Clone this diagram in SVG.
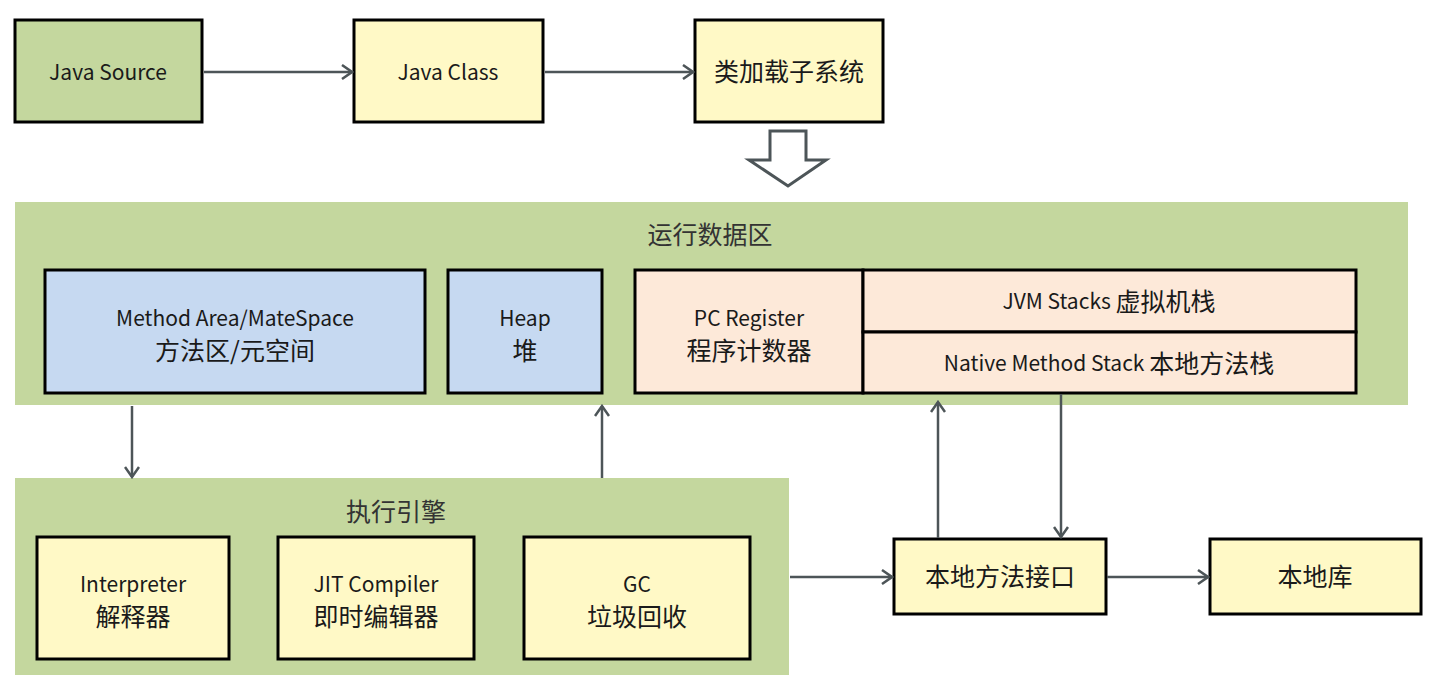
<svg xmlns="http://www.w3.org/2000/svg" width="1436" height="684" viewBox="0 0 1436 684">
<style>
  text { font-family: "Noto Sans CJK SC", "Liberation Sans", sans-serif; fill: #1a1a1a; text-anchor: middle; dominant-baseline: central; }
  .t { font-size: 21px; }
  .c { font-size: 25px; }
  .title { font-size: 25px; fill: #333; }
  .box { stroke: #000; stroke-width: 3; }
  .green { fill: #C4D79E; }
  .yellow { fill: #FFF9C6; }
  .blue { fill: #C6D9F1; }
  .peach { fill: #FDE9D9; }
  .conn { stroke: #4D5558; stroke-width: 2.5; fill: none; }
</style>
<defs>
  <marker id="arr" markerUnits="userSpaceOnUse" markerWidth="14" markerHeight="16" refX="12" refY="8" orient="auto">
    <path d="M2,1 L12,8 L2,15" fill="none" stroke="#4D5558" stroke-width="2.5"/>
  </marker>
</defs>
<rect width="1436" height="684" fill="#fff"/>

<g id="runtime-data-area">
  <rect x="15" y="202" width="1393" height="203" class="green"/>
  <text x="710" y="233" class="title">运行数据区</text>
</g>
<g id="execution-engine">
  <rect x="15" y="478" width="774" height="197" class="green"/>
  <text x="396" y="510" class="title">执行引擎</text>
</g>

<g id="java-source">
  <rect x="15" y="20" width="187" height="102" class="box green"/>
  <text x="108" y="71" class="t">Java Source</text>
</g>
<g id="java-class">
  <rect x="354" y="20" width="189" height="102" class="box yellow"/>
  <text x="448" y="71" class="t">Java Class</text>
</g>
<g id="class-loader">
  <rect x="695" y="20" width="188" height="102" class="box yellow"/>
  <text x="789" y="70" class="c">类加载子系统</text>
</g>

<g id="method-area">
  <rect x="45" y="270" width="380" height="123" class="box blue"/>
  <text x="235" y="317" class="t">Method Area/MateSpace</text>
  <text x="235" y="349" class="c">方法区/元空间</text>
</g>
<g id="heap">
  <rect x="448" y="270" width="154" height="123" class="box blue"/>
  <text x="525" y="317" class="t">Heap</text>
  <text x="525" y="349" class="c">堆</text>
</g>
<g id="pc-register">
  <rect x="635" y="270" width="228" height="123" class="box peach"/>
  <text x="749" y="317" class="t">PC Register</text>
  <text x="749" y="349" class="c">程序计数器</text>
</g>
<g id="jvm-stacks">
  <rect x="863" y="270" width="493" height="62" class="box peach"/>
  <text x="1109" y="300" class="t">JVM Stacks <tspan class="c">虚拟机栈</tspan></text>
</g>
<g id="native-method-stack">
  <rect x="863" y="332" width="493" height="61" class="box peach"/>
  <text x="1109" y="362" class="t">Native Method Stack <tspan class="c">本地方法栈</tspan></text>
</g>

<g id="interpreter">
  <rect x="37" y="537" width="192" height="122" class="box yellow"/>
  <text x="133" y="583" class="t">Interpreter</text>
  <text x="133" y="615" class="c">解释器</text>
</g>
<g id="jit-compiler">
  <rect x="278" y="537" width="196" height="122" class="box yellow"/>
  <text x="376" y="583" class="t">JIT Compiler</text>
  <text x="376" y="615" class="c">即时编辑器</text>
</g>
<g id="gc">
  <rect x="524" y="537" width="226" height="122" class="box yellow"/>
  <text x="637" y="583" class="t">GC</text>
  <text x="637" y="615" class="c">垃圾回收</text>
</g>
<g id="native-interface">
  <rect x="894" y="539" width="212" height="75" class="box yellow"/>
  <text x="1000" y="575" class="c">本地方法接口</text>
</g>
<g id="native-library">
  <rect x="1210" y="539" width="211" height="75" class="box yellow"/>
  <text x="1315" y="575" class="c">本地库</text>
</g>

<g id="connectors">
  <line x1="204" y1="72" x2="352" y2="72" class="conn" marker-end="url(#arr)"/>
  <line x1="545" y1="72" x2="693" y2="72" class="conn" marker-end="url(#arr)"/>
  <polygon points="770,131 806,131 806,160 826,160 788,186 749,160 770,160" fill="#fff" stroke="#4D5558" stroke-width="3" stroke-linejoin="miter"/>
  <line x1="132" y1="406" x2="132" y2="477" class="conn" marker-end="url(#arr)"/>
  <line x1="602" y1="478" x2="602" y2="406" class="conn" marker-end="url(#arr)"/>
  <line x1="938" y1="538" x2="938" y2="402" class="conn" marker-end="url(#arr)"/>
  <line x1="1061" y1="394" x2="1061" y2="537" class="conn" marker-end="url(#arr)"/>
  <line x1="790" y1="577" x2="892" y2="577" class="conn" marker-end="url(#arr)"/>
  <line x1="1107" y1="577" x2="1208" y2="577" class="conn" marker-end="url(#arr)"/>
</g>
</svg>
